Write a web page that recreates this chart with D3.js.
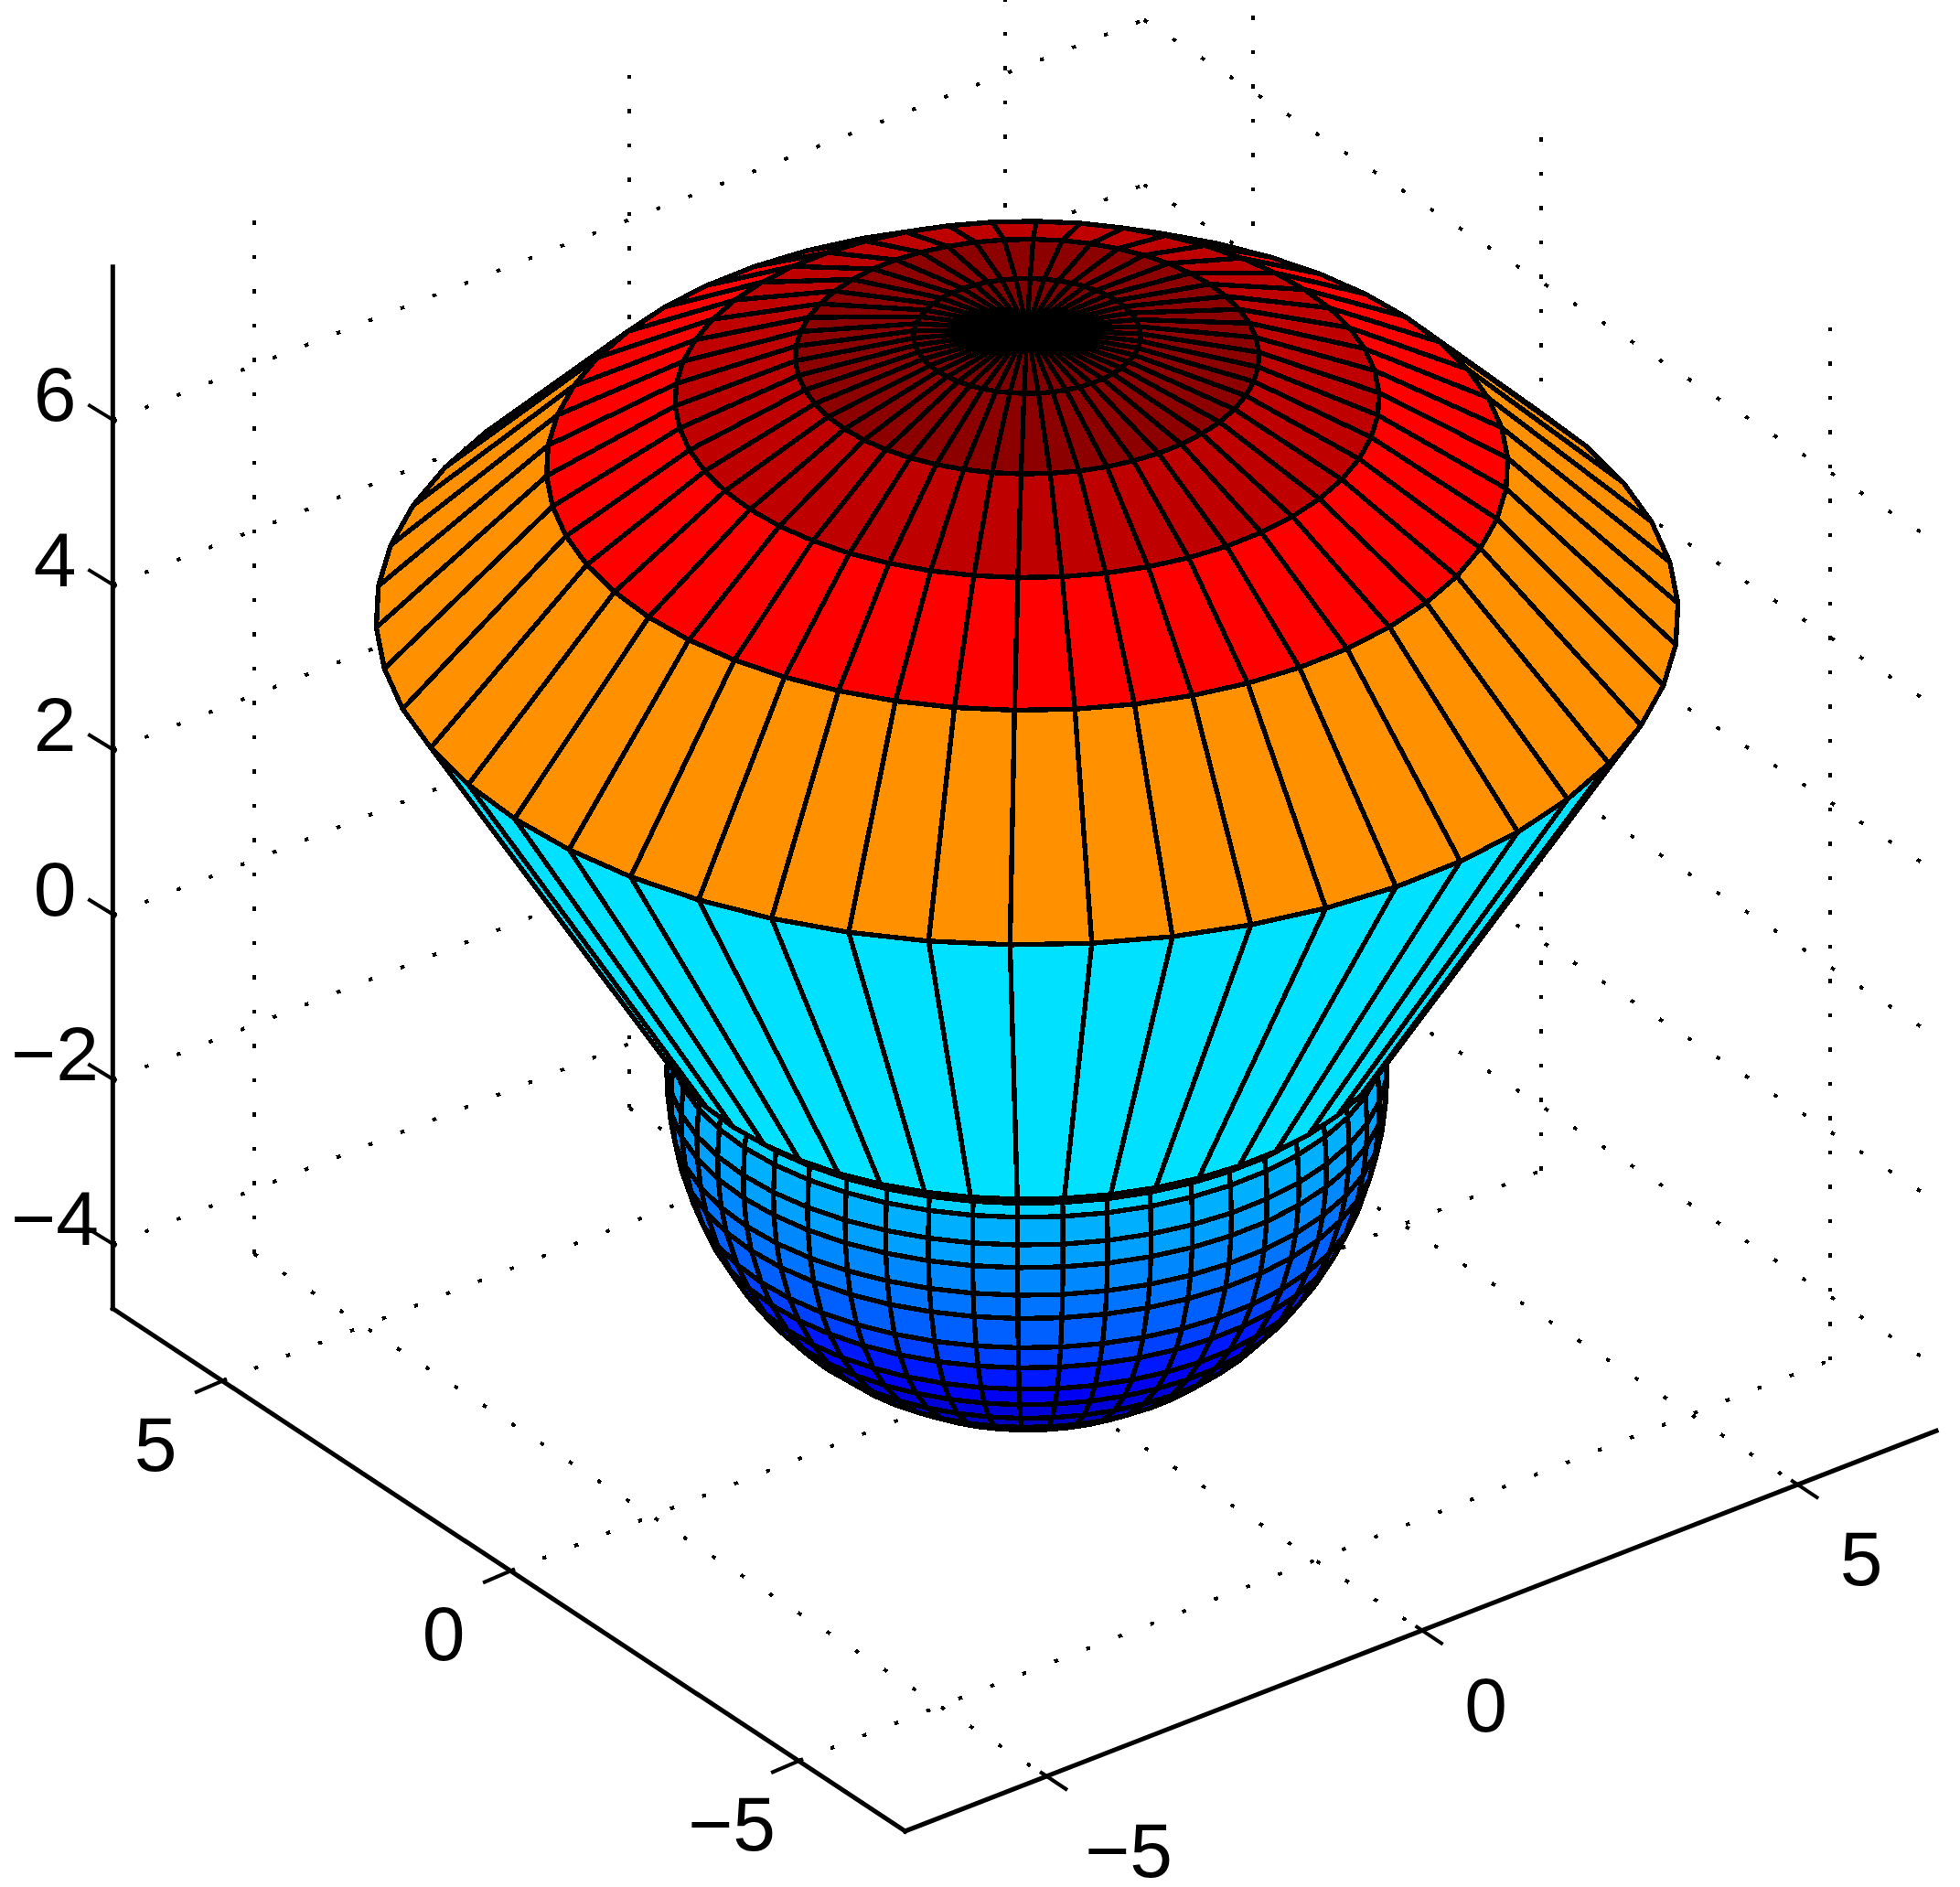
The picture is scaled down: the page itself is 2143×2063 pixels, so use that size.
<!DOCTYPE html>
<html><head><meta charset="utf-8">
<script src="https://cdn.jsdelivr.net/npm/d3@7"></script>
<style>html,body{margin:0;padding:0;background:#fff}svg{display:block}text{font-family:"Liberation Sans",Arial,sans-serif;font-size:84px;fill:#000}</style>
</head><body><svg id="c" width="2143" height="2063"></svg>
<script>
// ---- data ----
const xTicks = [-5, 0, 5];
const yTicks = [-5, 0, 5];
const zTicks = [-4, -2, 0, 2, 4, 6];
const xLim = [-6.88, 6.85];
const yLim = [-6.85, 6.9];
const zLim = [-4.78, 7.86];
const meridianCount = 50;
const meridianTurnDeg = 0.6;
// mushroom cap and cone: rings from the apex down
const capRadius = [0, 1.2, 2.45, 3.72, 5.08, 6.88, 3.95];
const capHeight = [7.85, 7.77, 7.52, 7.0, 6.18, 4.38, -0.41];
const capColors = ["#800000", "#8c0000", "#bf0000", "#ff0000", "#ff9000", "#00e0ff"];
// lower ball: rings by latitude below its equator (degrees)
const ballRadius = 3.81, ballCentre = -1.10;
const ballLatitude = [-8.1, -5.7, -0.8, 3.4, 8.8, 13.7, 20.5, 25.8, 32.4, 38.3, 45.2, 52.8, 60, 67.5, 75, 82.5, 90];
const ballColors = ["#00d0ff", "#00b0ff", "#00a0ff", "#0088ff", "#0074ff", "#0060ff", "#0040ff", "#0018ff", "#0000f5", "#0000d8", "#0000c0", "#0000b0", "#0000a0", "#000090", "#000080", "#000070"];

// ---- view(-37.5, 30) ----
const az = 37.5 * Math.PI / 180;
const ca = Math.cos(az), sa = Math.sin(az);
const sinEl = 0.506, cosEl = 0.8705;
const sxScale = d3.scaleLinear().domain([0, 1]).range([1123, 1123 + 103.5]);
const syScale = d3.scaleLinear().domain([zLim[0] * cosEl, zLim[0] * cosEl + 1]).range([1498, 1498 - 103.5]);
const proj = (x, y, z) => [
  sxScale(x * ca - y * sa),
  syScale((x * sa + y * ca) * sinEl + z * cosEl)
];
const depth = (x, y, z) => -(x * sa + y * ca) * 0.866 + z * 0.5;

const svg = d3.select("#c");
const line = d3.line();

// ---- dotted grid ----
const grid = [];
xTicks.forEach(v => {
  grid.push([[v, yLim[1], zLim[0]], [v, yLim[1], zLim[1]]]);
  grid.push([[v, yLim[1], zLim[0]], [v, yLim[0], zLim[0]]]);
});
yTicks.forEach(v => {
  grid.push([[xLim[1], v, zLim[0]], [xLim[1], v, zLim[1]]]);
  grid.push([[xLim[0], v, zLim[0]], [xLim[1], v, zLim[0]]]);
});
zTicks.forEach(v => {
  grid.push([[xLim[0], yLim[1], v], [xLim[1], yLim[1], v]]);
  grid.push([[xLim[1], yLim[1], v], [xLim[1], yLim[0], v]]);
});
svg.append("g").selectAll("path").data(grid).join("path")
  .attr("d", d => line(d.map(p => proj(...p))))
  .attr("fill", "none").attr("stroke", "#000").attr("stroke-width", 4)
  .attr("stroke-dasharray", "4.5 33").attr("shape-rendering", "crispEdges");

// ---- surface ----
const dTheta = 2 * Math.PI / meridianCount;
const turn = meridianTurnDeg * Math.PI / 180;
const faces = [];
function addBands(rs, zs, colors) {
  colors.forEach((color, i) => {
    d3.range(meridianCount).forEach(k => {
      const t0 = k * dTheta + turn, t1 = (k + 1) * dTheta + turn;
      const pts = [[rs[i], t0, zs[i]], [rs[i], t1, zs[i]], [rs[i + 1], t1, zs[i + 1]], [rs[i + 1], t0, zs[i + 1]]]
        .map(([r, t, z]) => [r * Math.cos(t), r * Math.sin(t), z]);
      faces.push({ color, pts, d: d3.mean(pts, p => depth(...p)) });
    });
  });
}
addBands(ballLatitude.map(l => ballRadius * Math.cos(l * Math.PI / 180)),
         ballLatitude.map(l => ballCentre - ballRadius * Math.sin(l * Math.PI / 180)), ballColors);
addBands(capRadius, capHeight, capColors);
faces.sort((a, b) => d3.ascending(a.d, b.d));
svg.append("g").selectAll("path").data(faces).join("path")
  .attr("d", d => line(d.pts.map(p => proj(...p))) + "Z")
  .attr("fill", d => d.color).attr("stroke", "#000").attr("stroke-width", 5.4)
  .attr("stroke-linejoin", "round").attr("shape-rendering", "crispEdges");

// ---- axes ----
const axes = [
  [[xLim[0], yLim[0], zLim[0]], [xLim[1], yLim[0], zLim[0]]],
  [[xLim[0], yLim[0], zLim[0]], [xLim[0], yLim[1], zLim[0]]],
  [[xLim[0], yLim[1], zLim[0]], [xLim[0], yLim[1], zLim[1]]]
];
svg.append("g").selectAll("path").data(axes).join("path")
  .attr("d", d => line(d.map(p => proj(...p))))
  .attr("fill", "none").attr("stroke", "#000").attr("stroke-width", 5).attr("stroke-linecap", "square");

const fmt = v => (v < 0 ? "\u2212" : "") + Math.abs(v);
const ticks = [
  ...xTicks.map(v => ({ v, at: proj(v, yLim[0], zLim[0]), a: [-7, -5], b: [23, 15], lx: v < 0 ? 90 : 70, ly: 110 })),
  ...yTicks.map(v => ({ v, at: proj(xLim[0], v, zLim[0]), a: [5, -2], b: [-30, 13], lx: -73, ly: 98 })),
  ...zTicks.map(v => ({ v, at: proj(xLim[0], yLim[1], v), a: [4, 2], b: [-27, -17], lx: 0, ly: 1, abs: 60 }))
];
const tg = svg.append("g");
tg.selectAll("path").data(ticks).join("path")
  .attr("d", d => line([[d.at[0] + d.a[0], d.at[1] + d.a[1]], [d.at[0] + d.b[0], d.at[1] + d.b[1]]]))
  .attr("stroke", "#000").attr("stroke-width", 4).attr("fill", "none");
tg.selectAll("text").data(ticks).join("text")
  .attr("x", d => d.abs !== undefined ? d.abs : d.at[0] + d.lx)
  .attr("y", d => d.at[1] + d.ly)
  .attr("text-anchor", "middle")
  .text(d => fmt(d.v));
</script></body></html>
